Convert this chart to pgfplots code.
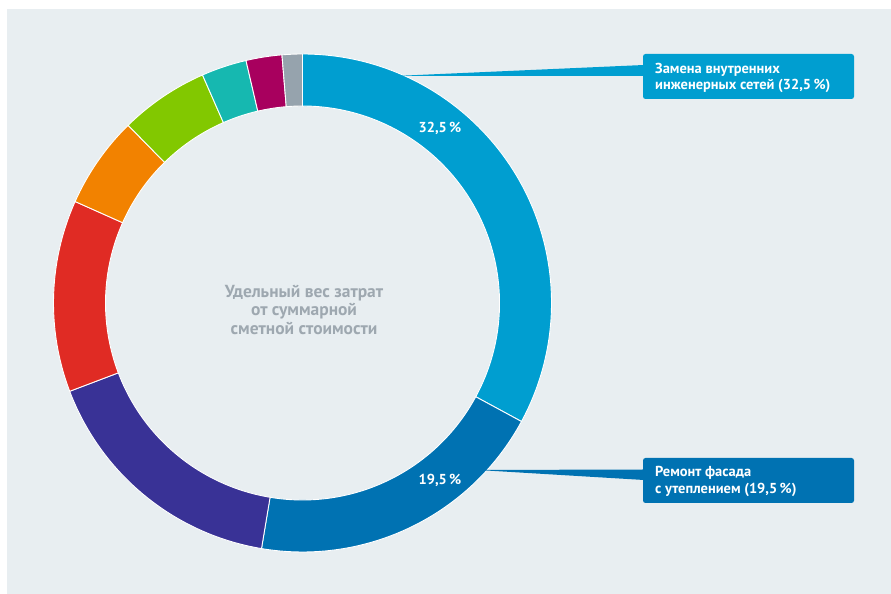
\documentclass[border=0pt]{standalone}
\usepackage{pgfplots}
\pgfplotsset{compat=1.18}
\usepackage{pgfplotstable}
\usepackage{fontspec}
\setmainfont{PT Sans}

\definecolor{c1}{RGB}{0,158,208}
\definecolor{c2}{RGB}{0,114,178}
\definecolor{c3}{RGB}{57,50,150}
\definecolor{c4}{RGB}{224,43,36}
\definecolor{c5}{RGB}{242,130,0}
\definecolor{c6}{RGB}{130,200,0}
\definecolor{c7}{RGB}{22,184,176}
\definecolor{c8}{RGB}{168,0,94}
\definecolor{c9}{RGB}{150,163,173}
\definecolor{bg}{RGB}{232,238,241}
\definecolor{ctext}{RGB}{158,168,176}

\pgfplotstableread{
val col
32.5 c1
19.5 c2
16.4 c3
12.3 c4
5.9 c5
5.7 c6
2.9 c7
2.3 c8
1.3 c9
}\donutdata

\begin{document}
\begin{tikzpicture}
\def\cx{302.5}\def\cy{291}\def\Ro{249}\def\Ri{197}
\pgfplotstablegetrowsof{\donutdata}
\pgfmathtruncatemacro\nlast{\pgfplotsretval-1}
\gdef\total{0}
\foreach \i in {0,...,\nlast}{%
  \pgfplotstablegetelem{\i}{val}\of\donutdata
  \pgfmathsetmacro\tmp{\total+\pgfplotsretval}\xdef\total{\tmp}}
\gdef\cum{0}\gdef\sectors{}
\foreach \i in {0,...,\nlast}{%
  \pgfplotstablegetelem{\i}{val}\of\donutdata\let\val\pgfplotsretval
  \pgfplotstablegetelem{\i}{col}\of\donutdata\let\colname\pgfplotsretval
  \pgfmathsetmacro\aone{90-\cum/\total*360}
  \pgfmathsetmacro\tmp{\cum+\val}\xdef\cum{\tmp}
  \pgfmathsetmacro\atwo{90-\cum/\total*360}
  \pgfmathsetmacro\xa{\cx+\Ro*cos(\aone)}\pgfmathsetmacro\ya{\cy+\Ro*sin(\aone)}
  \pgfmathsetmacro\xb{\cx+\Ri*cos(\atwo)}\pgfmathsetmacro\yb{\cy+\Ri*sin(\atwo)}
  \xdef\sectors{\unexpanded\expandafter{\sectors}\noexpand\fill[\colname,draw=white,line width=0.9bp] (axis cs:\xa,\ya) arc[start angle=\aone,end angle=\atwo,radius=\Ro bp] -- (axis cs:\xb,\yb) arc[start angle=\atwo,end angle=\aone,radius=\Ri bp] -- cycle;}%
}
\begin{axis}[x=1bp,y=1bp,xmin=0,xmax=891,ymin=0,ymax=594,hide axis,clip=false]
\fill[white] (axis cs:0,0) rectangle (axis cs:891,594);
\fill[bg] (axis cs:7,0) rectangle (axis cs:891,585);
\sectors
% connectors
\fill[c1] (axis cs:395,518) -- (axis cs:644,529) -- (axis cs:644,518) -- cycle;
\fill[c2] (axis cs:478,124) -- (axis cs:644,124.5) -- (axis cs:644,114) -- cycle;
% boxes
\fill[c1, rounded corners=2.5bp] (axis cs:643,495) rectangle (axis cs:854,540);
\fill[c2, rounded corners=2.5bp] (axis cs:643,91) rectangle (axis cs:854,136);
\begin{scope}[every node/.style={inner sep=0pt, font=\bfseries\fontsize{14.5}{18}\selectfont}]
\node[white, anchor=base west] at (axis cs:655,520.7) {Замена внутренних};
\node[white, anchor=base west] at (axis cs:655,504) {инженерных сетей (32,5\,\%)};
\node[white, anchor=base west] at (axis cs:655,117.3) {Ремонт фасада};
\node[white, anchor=base west] at (axis cs:655,100.7) {с утеплением (19,5\,\%)};
\node[white, anchor=base, font=\bfseries\fontsize{14.5}{18}\selectfont] at (axis cs:440,461.3) {32,5\,\%};
\node[white, anchor=base, font=\bfseries\fontsize{14.5}{18}\selectfont] at (axis cs:440,109) {19,5\,\%};
\end{scope}
\begin{scope}[every node/.style={inner sep=0pt, ctext, anchor=base, font=\bfseries\fontsize{17.5}{20}\selectfont}]
\node at (axis cs:304,296.7) {Удельный вес затрат};
\node at (axis cs:304,278) {от суммарной};
\node at (axis cs:304,259.3) {сметной стоимости};
\end{scope}
\end{axis}
\end{tikzpicture}
\end{document}
